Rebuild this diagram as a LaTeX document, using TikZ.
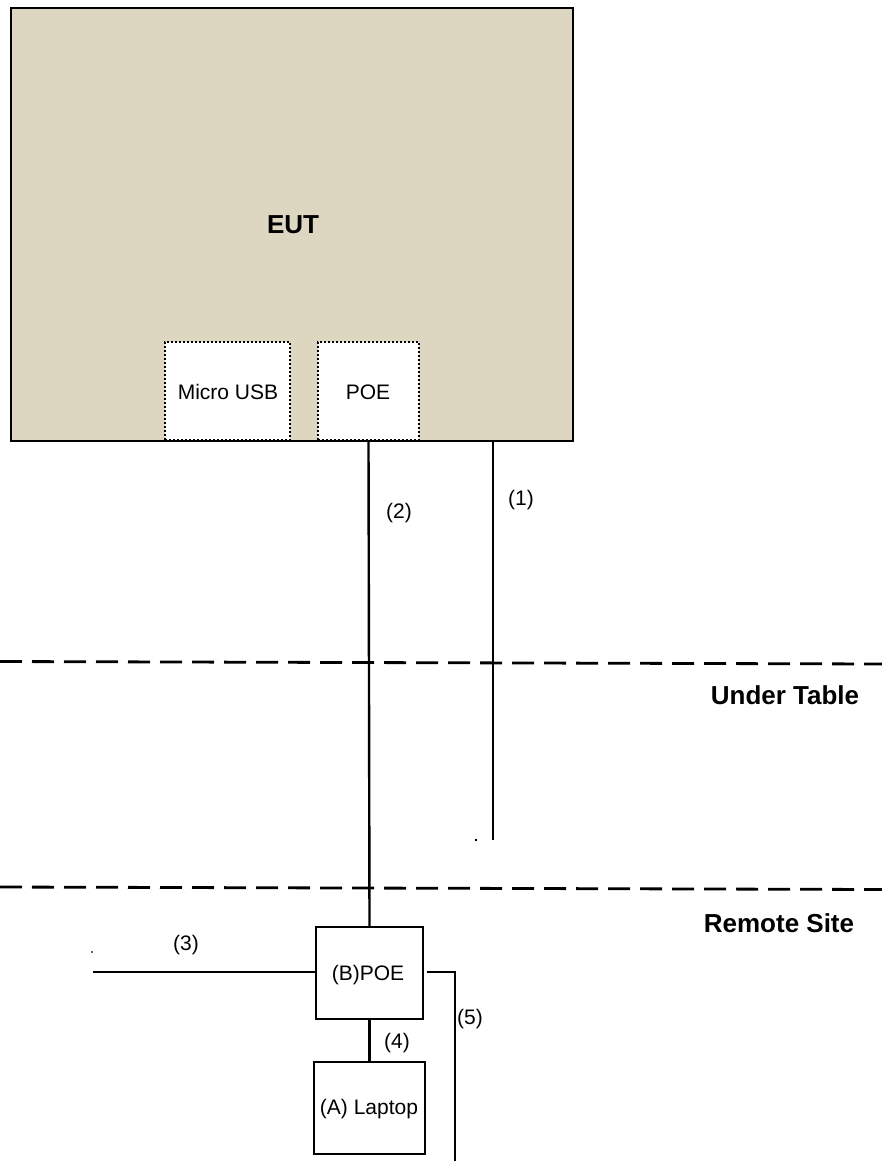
\documentclass[tikz,border=0pt]{standalone}
\usepackage{fontspec}
\setmainfont{Liberation Sans}
\definecolor{euttan}{HTML}{DDD7C2}
\begin{document}
\begin{tikzpicture}[x=1pt,y=-1pt,
  lbl/.style={font=\fontsize{21}{24}\selectfont, inner sep=0pt},
  title/.style={font=\fontsize{26}{30}\selectfont\bfseries, inner sep=0pt},
  portbox/.style={draw=black, fill=white, line width=1.8pt, dash pattern=on 1.8pt off 2.2pt, inner sep=0pt},
  devbox/.style={draw=black, fill=white, line width=2.4pt, inner sep=0pt},
  cable/.style={line width=2.4pt},
  zone/.style={line width=2.8pt, dash pattern=on 22pt off 10pt}
]
\useasboundingbox (0,0) rectangle (882,1161);
% EUT
\node[draw=black, fill=euttan, line width=2.6pt, minimum width=562pt, minimum height=433pt, inner sep=0pt] (eut) at (292,224.5) {};
\node[title] (euttxt) at (293,225) {EUT};
\node[portbox, minimum width=125pt, minimum height=98pt] (usb) at (227.5,391) {};
\node[lbl] (usbtxt) at (228,392) {Micro USB};
\node[portbox, minimum width=101pt, minimum height=98pt] (poe) at (368.5,391) {};
\node[lbl] (poetxt) at (368,392) {POE};
% zones
\coordinate (d1a) at (0,661.5);
\coordinate (d1b) at (882,664);
\coordinate (d2a) at (0,887);
\coordinate (d2b) at (882,889.5);
\draw[zone] (d1a) -- (d1b);
\draw[zone] (d2a) -- (d2b);
\node[title] (ut) at (785,695) {Under Table};
\node[title] (rs) at (779,923) {Remote Site};
% remote devices
\node[devbox, minimum width=107pt, minimum height=92pt] (bpoe) at (369.5,973) {};
\node[lbl] (bpoetxt) at (368,975) {(B)POE};
\node[devbox, minimum width=111pt, minimum height=92pt] (lap) at (369.5,1108) {};
\node[lbl] (laptxt) at (369,1109) {(A) Laptop};
% cables
\coordinate (c1top) at (493,442);
\coordinate (c1end) at (493,840);
\draw[cable] (c1top) -- (c1end);
\draw[cable] (poe.south) -- (bpoe.north);
\coordinate (c3end) at (93,972);
\draw[cable] (c3end) -- (bpoe.west |- c3end);
\draw[cable] (bpoe.south) -- (lap.north);
\coordinate (c5a) at (455,972);
\coordinate (c5b) at (455,1161);
\draw[cable, shorten <=3pt] (bpoe.east |- c5a) -- (c5a) -- (c5b);
% tiny marks
\fill[black] (474.8,838.8) rectangle (477,841.2);
\fill[black!60] (91,951) rectangle (93,953);
% cable labels
\node[lbl] (l1) at (521,500) {(1)};
\node[lbl] (l2) at (399,513) {(2)};
\node[lbl] (l3) at (186,945) {(3)};
\node[lbl] (l4) at (397,1043) {(4)};
\node[lbl] (l5) at (470,1019) {(5)};
\end{tikzpicture}
\end{document}
